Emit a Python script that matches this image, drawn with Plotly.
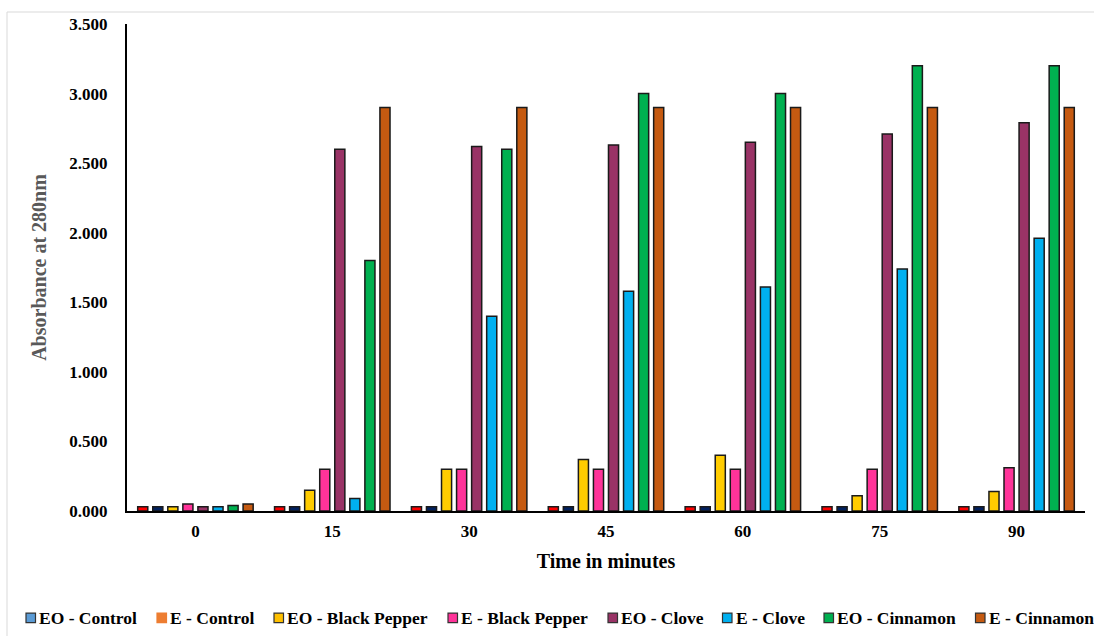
import plotly.graph_objects as go

times = ["0", "15", "30", "45", "60", "75", "90"]
series_names = ["EO - Control", "E - Control", "EO - Black Pepper", "E - Black Pepper",
                "EO - Clove", "E - Clove", "EO - Cinnamon", "E - Cinnamon"]

eo_control = [0.03, 0.03, 0.03, 0.03, 0.03, 0.03, 0.03]
e_control = [0.03, 0.03, 0.03, 0.03, 0.03, 0.03, 0.03]
eo_black_pepper = [0.03, 0.15, 0.30, 0.37, 0.40, 0.11, 0.14]
e_black_pepper = [0.05, 0.30, 0.30, 0.30, 0.30, 0.30, 0.31]
eo_clove = [0.03, 2.60, 2.62, 2.63, 2.65, 2.71, 2.79]
e_clove = [0.03, 0.09, 1.40, 1.58, 1.61, 1.74, 1.96]
eo_cinnamon = [0.04, 1.80, 2.60, 3.00, 3.00, 3.20, 3.20]
e_cinnamon = [0.05, 2.90, 2.90, 2.90, 2.90, 2.90, 2.90]

values = [eo_control, e_control, eo_black_pepper, e_black_pepper,
          eo_clove, e_clove, eo_cinnamon, e_cinnamon]

bar_colors = ["#FF0000", "#002060", "#FFCC00", "#FF3399",
              "#993366", "#00B0F0", "#00B050", "#C55A11"]
legend_colors = ["#5B9BD5", "#ED7D31", "#FFC000", "#FF3399",
                 "#993366", "#00B0F0", "#00B050", "#C55A11"]
legend_outline = ["#333333", "#ED7D31", "#333333", "#333333",
                  "#333333", "#333333", "#333333", "#333333"]

FONT = "Liberation Serif"

# plot-area geometry in pixels (used for the hand-drawn legend)
PL, PR, PT, PB = 127, 1085, 24, 511


def px_x(x):
    return (x - PL) / (PR - PL)


def px_y(y):
    return (PB - y) / (PB - PT)


legend_box_left = [26, 157, 274, 448, 608, 722.5, 824, 975.5]
LEG_Y = 617.8
BOX = 9.5

fig = go.Figure()
for name, vals, col in zip(series_names, values, bar_colors):
    fig.add_trace(go.Bar(
        x=times, y=vals, name=name, showlegend=False,
        marker=dict(color=col, line=dict(color="#1a1a1a", width=1.5)),
    ))

shapes = [dict(type="rect", xref="paper", yref="paper",
               x0=px_x(7), x1=px_x(1100), y0=px_y(640), y1=px_y(12),
               line=dict(color="#D9D9D9", width=1), fillcolor="rgba(0,0,0,0)",
               layer="below")]
annotations = []
for name, col, oc, bl in zip(series_names, legend_colors, legend_outline, legend_box_left):
    shapes.append(dict(type="rect", xref="paper", yref="paper",
                       x0=px_x(bl), x1=px_x(bl + BOX),
                       y0=px_y(LEG_Y + BOX / 2), y1=px_y(LEG_Y - BOX / 2),
                       fillcolor=col, line=dict(color=oc, width=1.2)))
    annotations.append(dict(xref="paper", yref="paper", x=px_x(bl + BOX + 2.5),
                            y=px_y(LEG_Y), xanchor="left", yanchor="middle",
                            text=name, showarrow=False, borderpad=0,
                            font=dict(family=FONT, size=17.5, color="black",
                                      weight="bold")))

fig.update_layout(
    width=1094, height=636,
    margin=dict(l=PL, r=1094 - PR, t=PT, b=636 - PB, autoexpand=False),
    paper_bgcolor="white", plot_bgcolor="white",
    barmode="group", bargap=0.12, bargroupgap=0.33,
    font=dict(family=FONT, size=17, color="black", weight="bold"),
    showlegend=False,
    xaxis=dict(
        type="category", showline=True, linecolor="black", linewidth=2,
        ticks="", showgrid=False, zeroline=False, ticklabelstandoff=4,
        tickfont=dict(family=FONT, size=17, color="black", weight="bold"),
        title=dict(text="Time in minutes", standoff=14,
                   font=dict(family=FONT, size=20, color="black", weight="bold")),
    ),
    yaxis=dict(
        range=[0, 3.5], dtick=0.5, tick0=0, tickformat=".3f",
        showline=True, linecolor="black", linewidth=2, ticks="",
        showgrid=False, zeroline=False, ticklabelstandoff=14,
        tickfont=dict(family=FONT, size=17, color="black", weight="bold"),
        title=dict(text="Absorbance at 280nm", standoff=17,
                   font=dict(family=FONT, size=20, color="#595959", weight="bold")),
    ),
    shapes=shapes,
    annotations=annotations,
)

fig.write_html("out.html")
